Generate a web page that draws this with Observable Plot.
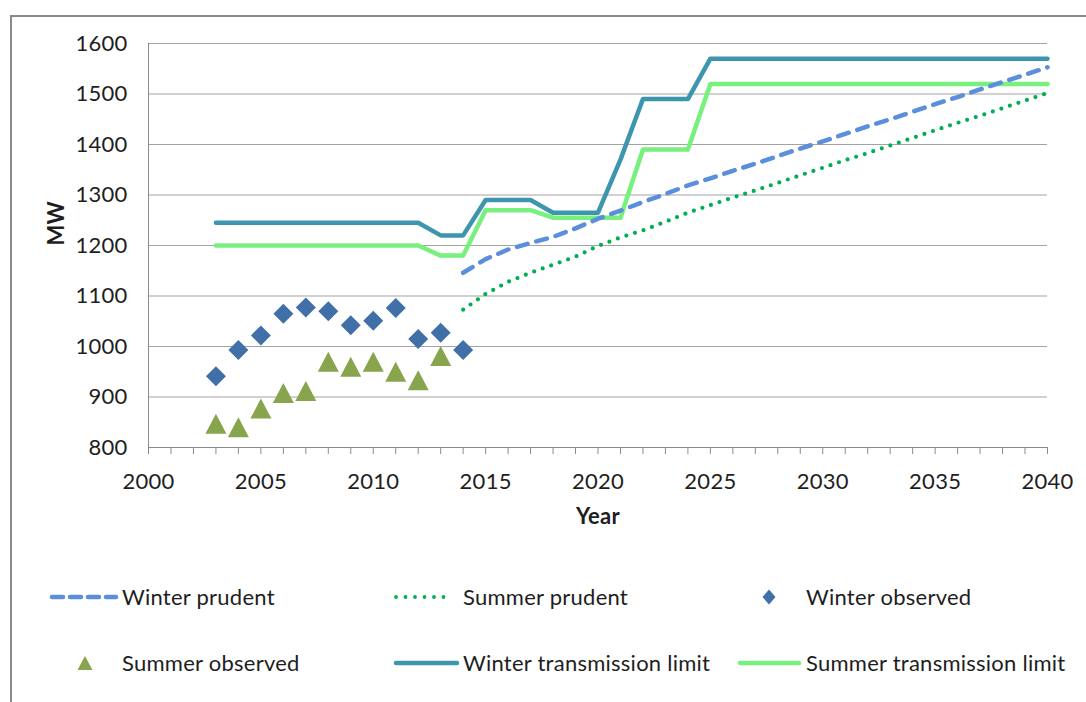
<!DOCTYPE html>
<html>
<head>
<meta charset="utf-8">
<script src="https://cdn.jsdelivr.net/npm/d3@7"></script>
<script src="https://cdn.jsdelivr.net/npm/@observablehq/plot@0.6"></script>
<style>
  html, body { margin: 0; padding: 0; background: #ffffff; }
  #wrap { position: relative; width: 1086px; height: 702px; overflow: hidden; background: #fff; }
  #frame { position: absolute; left: 10px; top: 15px; width: 1100px; height: 720px; border: 2px solid #8a8a8a; box-sizing: border-box; }
  #chart { position: absolute; left: 0; top: 0; }
  #legend { position: absolute; left: 0; top: 560px; }
</style>
</head>
<body>
<div id="wrap">
  <div id="frame"></div>
  <div id="chart"></div>
  <svg id="legend" width="1086" height="142"></svg>
</div>
<script>
// ---- Data ----
const observedYears = [2003, 2004, 2005, 2006, 2007, 2008, 2009, 2010, 2011, 2012, 2013, 2014];
const winterObserved = [941, 993, 1022, 1065, 1077, 1070, 1042, 1051, 1076, 1015, 1027, 993];
const summerObservedYears = [2003, 2004, 2005, 2006, 2007, 2008, 2009, 2010, 2011, 2012, 2013];
const summerObserved = [847, 840, 877, 908, 912, 970, 960, 970, 950, 933, 981];

const limitYears = [2003, 2004, 2005, 2006, 2007, 2008, 2009, 2010, 2011, 2012,
  2013, 2014, 2015, 2016, 2017, 2018, 2019, 2020, 2021, 2022, 2023, 2024,
  2025, 2026, 2027, 2028, 2029, 2030, 2031, 2032, 2033, 2034, 2035, 2036, 2037, 2038, 2039, 2040];
const winterLimit = [1245, 1245, 1245, 1245, 1245, 1245, 1245, 1245, 1245, 1245,
  1220, 1220, 1290, 1290, 1290, 1265, 1265, 1265, 1370, 1490, 1490, 1490,
  1570, 1570, 1570, 1570, 1570, 1570, 1570, 1570, 1570, 1570, 1570, 1570, 1570, 1570, 1570, 1570];
const summerLimit = [1200, 1200, 1200, 1200, 1200, 1200, 1200, 1200, 1200, 1200,
  1180, 1180, 1270, 1270, 1270, 1255, 1255, 1255, 1255, 1390, 1390, 1390,
  1520, 1520, 1520, 1520, 1520, 1520, 1520, 1520, 1520, 1520, 1520, 1520, 1520, 1520, 1520, 1520];

const prudentYears = [2014, 2015, 2016, 2017, 2018, 2019, 2020, 2021, 2022, 2023, 2024,
  2025, 2026, 2027, 2028, 2029, 2030, 2031, 2032, 2033, 2034, 2035, 2036, 2037, 2038, 2039, 2040];
const winterPrudent = [1146, 1173, 1192, 1205, 1217, 1234, 1253, 1269, 1286, 1302, 1319,
  1333, 1348, 1362, 1377, 1392, 1406, 1421, 1436, 1450, 1465, 1480, 1494, 1509, 1524, 1538, 1553];
const summerPrudent = [1073, 1104, 1128, 1146, 1162, 1178, 1199, 1216, 1230, 1247, 1265,
  1280, 1295, 1309, 1324, 1339, 1354, 1369, 1383, 1398, 1413, 1428, 1443, 1457, 1472, 1487, 1502];

const xTickLabels = [2000, 2005, 2010, 2015, 2020, 2025, 2030, 2035, 2040];
const yTickLabels = [800, 900, 1000, 1100, 1200, 1300, 1400, 1500, 1600];
const xTitle = "Year";
const yTitle = "MW";
const seriesNames = ["Winter prudent", "Summer prudent", "Winter observed",
  "Summer observed", "Winter transmission limit", "Summer transmission limit"];

// ---- Styles ----
const C = {
  winterPrudent: "#5b8edb",
  summerPrudent: "#00b050",
  winterObs: "#4170a8",
  summerObs: "#88a44c",
  winterLimit: "#3e96ae",
  summerLimit: "#78f07e",
  grid: "#a3a3a3",
  axis: "#8c8c8c",
  text: "#1e1e1e"
};
const FONT = "Lato, 'Open Sans', sans-serif";

const zip = (xs, ys) => xs.map((x, i) => ({x, y: ys[i]}));
const wObs = zip(observedYears, winterObserved);
const sObs = zip(summerObservedYears, summerObserved);
const wLim = zip(limitYears, winterLimit);
const sLim = zip(limitYears, summerLimit);
const wPru = zip(prudentYears, winterPrudent);
const sPru = zip(prudentYears, summerPrudent);

// bbox-centred symbols (like Excel markers)
const diamondSym = { draw(ctx, size) { const r = Math.sqrt(size / Math.PI);
  ctx.moveTo(0, -r); ctx.lineTo(r, 0); ctx.lineTo(0, r); ctx.lineTo(-r, 0); ctx.closePath(); } };
const triangleSym = { draw(ctx, size) { const r = Math.sqrt(size / Math.PI);
  ctx.moveTo(0, -r); ctx.lineTo(r * 1.05, r); ctx.lineTo(-r * 1.05, r); ctx.closePath(); } };

const chart = Plot.plot({
  width: 1086,
  height: 560,
  marginLeft: 148,
  marginRight: 39,
  marginTop: 43,
  marginBottom: 113,
  style: { fontFamily: FONT, fontSize: "22px", letterSpacing: "0.25px", color: C.text, background: "transparent", overflow: "visible" },
  x: { domain: [2000, 2040], label: null },
  y: { domain: [800, 1600], label: null },
  marks: [
    Plot.gridY(yTickLabels, { stroke: C.grid, strokeOpacity: 1, strokeWidth: 1 }),
    Plot.ruleX([2000], { stroke: C.axis, strokeWidth: 1 }),
    Plot.ruleY([800], { stroke: C.axis, strokeWidth: 1 }),
    Plot.axisX(d3.range(2000, 2041), {
      tickSize: 7, tickPadding: 19, stroke: C.axis, fill: C.text,
      tickFormat: d => xTickLabels.includes(d) ? String(d) : "", label: null
    }),
    Plot.axisY(yTickLabels, { tickSize: 0, tickPadding: 21, fill: C.text, tickFormat: d => String(d), label: null }),
    Plot.text([xTitle], { frameAnchor: "bottom", dy: 76, fontWeight: "bold", fill: C.text }),
    Plot.text([yTitle], { frameAnchor: "left", dx: -92, rotate: -90, fontWeight: "bold", fill: C.text }),
    Plot.line(wLim, { x: "x", y: "y", stroke: C.winterLimit, strokeWidth: 4.5, strokeLinejoin: "round", strokeLinecap: "round" }),
    Plot.line(sLim, { x: "x", y: "y", stroke: C.summerLimit, strokeWidth: 4.5, strokeLinejoin: "round", strokeLinecap: "round" }),
    Plot.line(wPru, { x: "x", y: "y", stroke: C.winterPrudent, strokeWidth: 4.5, strokeDasharray: "11,9", strokeLinecap: "round" }),
    Plot.line(sPru, { x: "x", y: "y", stroke: C.summerPrudent, strokeWidth: 4.2, strokeDasharray: "0,9", strokeLinecap: "round" }),
    Plot.dot(wObs, { x: "x", y: "y", symbol: diamondSym, r: 10, fill: C.winterObs }),
    Plot.dot(sObs, { x: "x", y: "y", symbol: triangleSym, r: 10, fill: C.summerObs })
  ]
});
document.getElementById("chart").appendChild(chart);

// ---- Legend ----
const lg = d3.select("#legend").style("font-family", FONT).style("font-size", "22px").style("letter-spacing", "0.25px");
const row1 = 37, row2 = 103;
const items = [
  { name: seriesNames[0], kind: "line", color: C.winterPrudent, x1: 52, x2: 116, dash: "11,7", w: 4.5, tx: 122, y: row1 },
  { name: seriesNames[1], kind: "line", color: C.summerPrudent, x1: 396, x2: 453, dash: "0,9.5", w: 3.8, tx: 463, y: row1 },
  { name: seriesNames[2], kind: "diamond", color: C.winterObs, cx: 769, tx: 806, y: row1 },
  { name: seriesNames[3], kind: "triangle", color: C.summerObs, cx: 85, tx: 122, y: row2 },
  { name: seriesNames[4], kind: "line", color: C.winterLimit, x1: 396, x2: 457, dash: null, w: 4.5, tx: 463, y: row2 },
  { name: seriesNames[5], kind: "line", color: C.summerLimit, x1: 740, x2: 799, dash: null, w: 4.5, tx: 806, y: row2 }
];
for (const it of items) {
  if (it.kind === "line") {
    const l = lg.append("line").attr("x1", it.x1).attr("x2", it.x2).attr("y1", it.y).attr("y2", it.y)
      .attr("stroke", it.color).attr("stroke-width", it.w).attr("stroke-linecap", "round");
    if (it.dash) l.attr("stroke-dasharray", it.dash);
  } else if (it.kind === "diamond") {
    lg.append("path").attr("transform", `translate(${it.cx},${it.y})`)
      .attr("d", "M0,-7.5L6.5,0L0,7.5L-6.5,0Z").attr("fill", it.color);
  } else {
    lg.append("path").attr("transform", `translate(${it.cx},${it.y})`)
      .attr("d", "M0,-7L7.5,7L-7.5,7Z").attr("fill", it.color);
  }
  lg.append("text").attr("x", it.tx).attr("y", it.y).attr("dy", "0.35em")
    .attr("fill", C.text).text(it.name);
}
</script>
</body>
</html>
